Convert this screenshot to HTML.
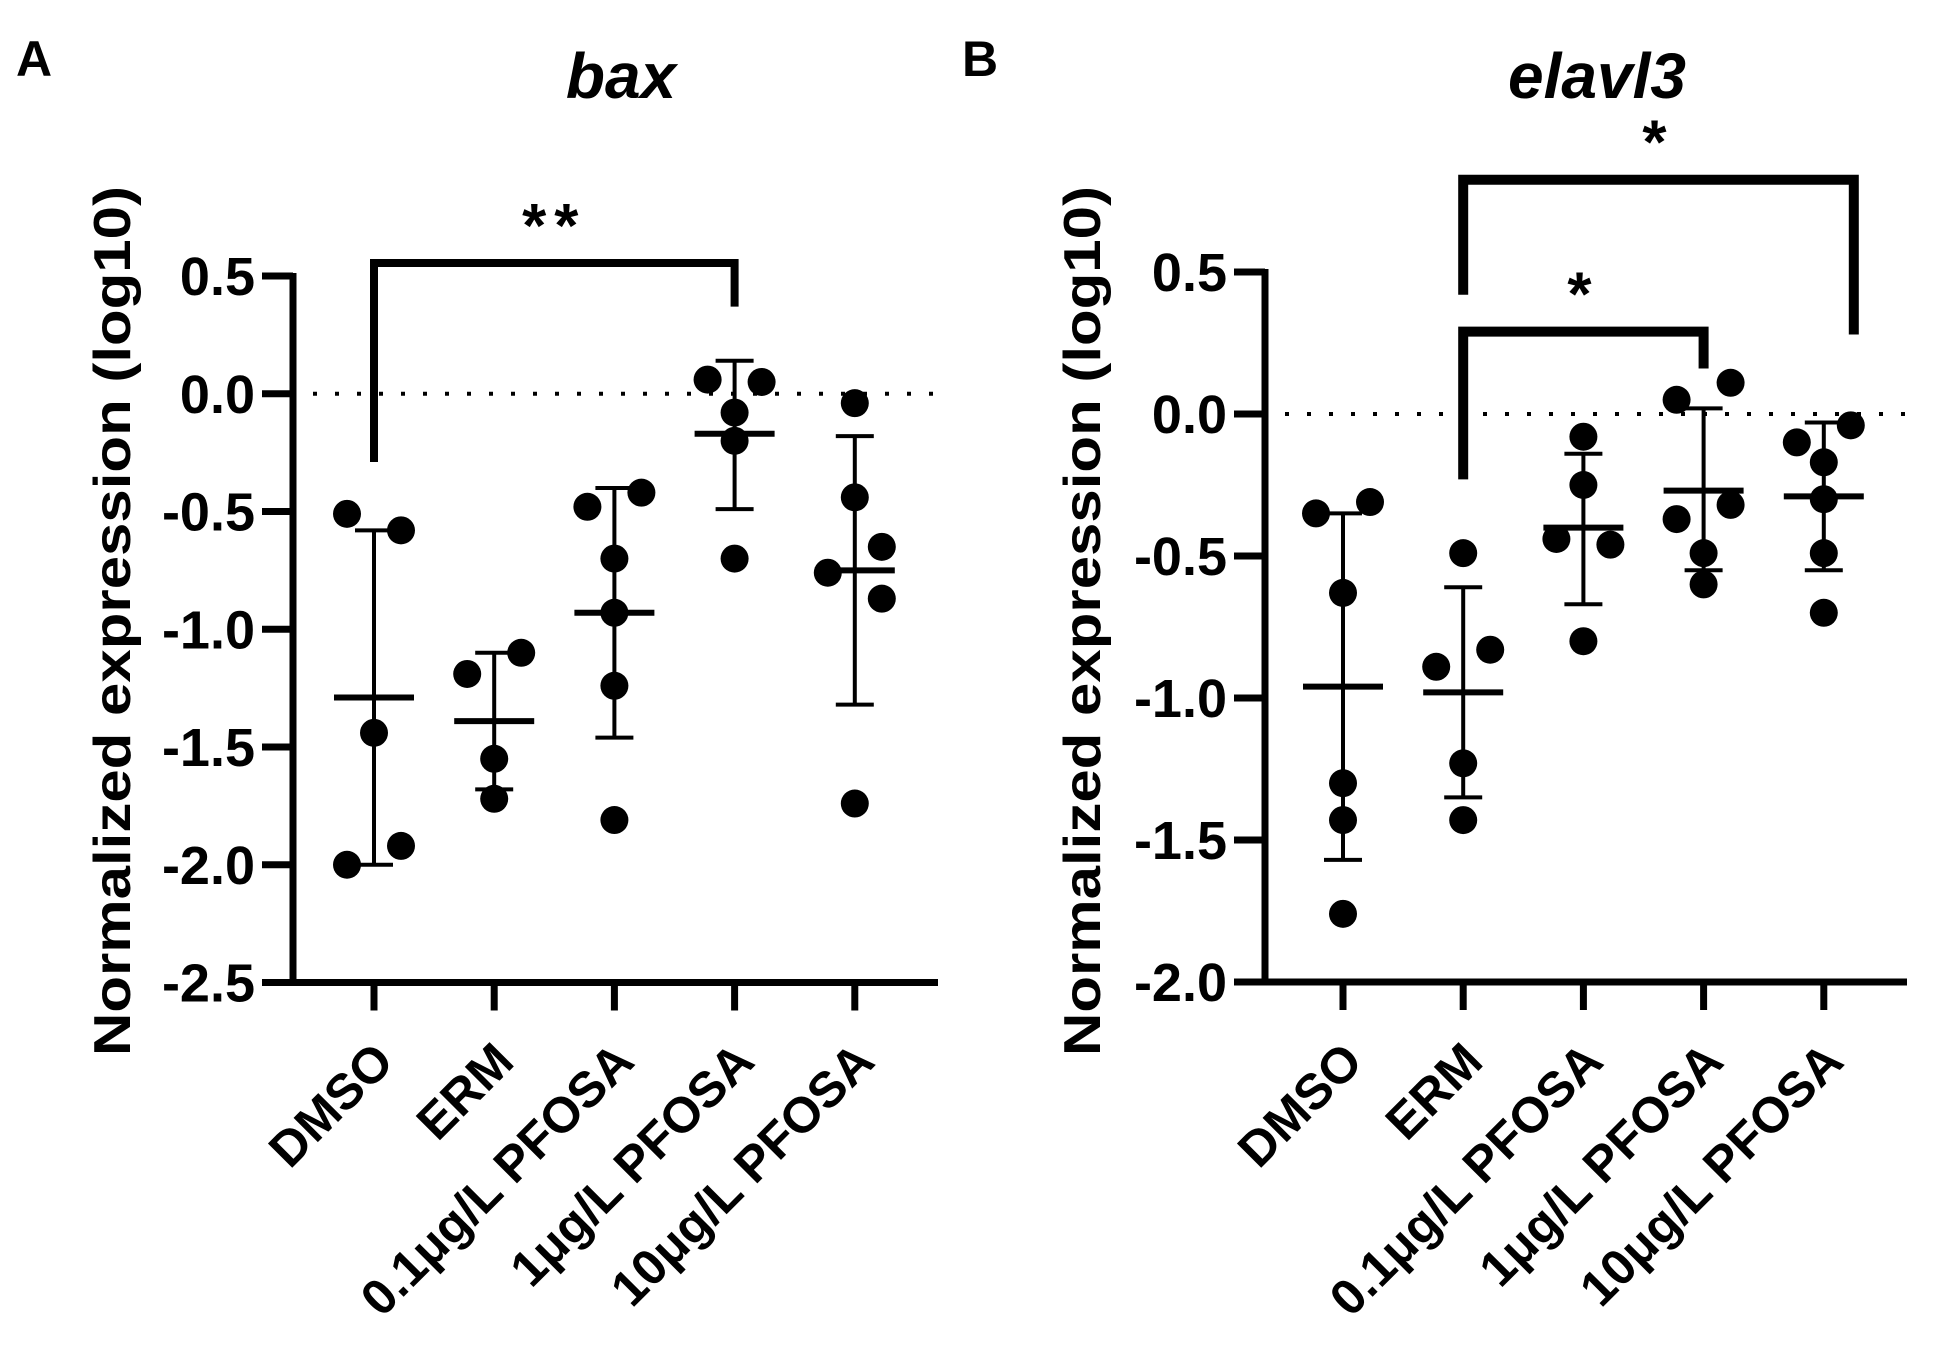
<!DOCTYPE html>
<html><head><meta charset="utf-8">
<style>
html,body{margin:0;padding:0;background:#fff;}
svg{display:block;font-family:"Liberation Sans",Arial,sans-serif;}
</style></head>
<body>
<svg id="fig" width="1938" height="1371" viewBox="0 0 1938 1371" xmlns="http://www.w3.org/2000/svg">
<text x="16" y="76" font-size="50" font-weight="bold">A</text>
<text x="962" y="76" font-size="50" font-weight="bold">B</text>
<text x="621" y="98" font-size="64" font-weight="bold" font-style="italic" text-anchor="middle">bax</text>
<text x="1597" y="98" font-size="64" font-weight="bold" font-style="italic" text-anchor="middle">elavl3</text>
<text x="0" y="0" font-size="52" font-weight="bold" text-anchor="middle" textLength="870" lengthAdjust="spacingAndGlyphs" transform="translate(130,621) rotate(-90)">Normalized expression (log10)</text>
<text x="0" y="0" font-size="52" font-weight="bold" text-anchor="middle" textLength="870" lengthAdjust="spacingAndGlyphs" transform="translate(1100,621) rotate(-90)">Normalized expression (log10)</text>
<g id="panelA"></g>
<g id="panelB"></g>
</svg>
<script>
const categories = ["DMSO","ERM","0.1μg/L PFOSA","1μg/L PFOSA","10μg/L PFOSA"];
// Panel A (bax)
const aTicks = [0.5,0.0,-0.5,-1.0,-1.5,-2.0,-2.5];
const aTickLabels = ["0.5","0.0","-0.5","-1.0","-1.5","-2.0","-2.5"];
const aPoints = [
  [-0.51,-0.58,-1.44,-1.92,-2.00],
  [-1.19,-1.10,-1.55,-1.72],
  [-0.48,-0.42,-0.70,-0.93,-1.24,-1.81],
  [0.06,0.05,-0.08,-0.20,-0.70],
  [-0.04,-0.44,-0.76,-0.65,-0.87,-1.74]
];
const aJitter = [[-1,1,0,1,-1],[-1,1,0,0],[-1,1,0,0,0,0],[-1,1,0,0,0],[0,0,-1,1,1,0]];
const aMean = [-1.29,-1.39,-0.93,-0.17,-0.75];
const aUpper = [-0.58,-1.10,-0.40,0.14,-0.18];
const aLower = [-2.00,-1.68,-1.46,-0.49,-1.32];
const aBrackets = [{from:0,to:3,y:0.555,leftEnd:-0.29,rightEnd:0.37,label:"**"}];
// Panel B (elavl3)
const bTicks = [0.5,0.0,-0.5,-1.0,-1.5,-2.0];
const bTickLabels = ["0.5","0.0","-0.5","-1.0","-1.5","-2.0"];
const bPoints = [
  [-0.35,-0.31,-0.63,-1.30,-1.43,-1.76],
  [-0.49,-0.89,-0.83,-1.23,-1.43],
  [-0.08,-0.25,-0.44,-0.46,-0.80],
  [0.05,0.11,-0.37,-0.32,-0.49,-0.60],
  [-0.10,-0.04,-0.17,-0.30,-0.49,-0.70]
];
const bJitter = [[-1,1,0,0,0,0],[0,-1,1,0,0],[0,0,-1,1,0],[-1,1,-1,1,0,0],[-1,1,0,0,0,0]];
const bMean = [-0.96,-0.98,-0.40,-0.27,-0.29];
const bUpper = [-0.35,-0.61,-0.14,0.02,-0.03];
const bLower = [-1.57,-1.35,-0.67,-0.55,-0.55];
const bBrackets = [
  {from:1,to:4,y:0.825,leftEnd:0.42,rightEnd:0.28,label:"*",rightShift:30},
  {from:1,to:3,y:0.29,leftEnd:-0.23,rightEnd:0.16,label:"*",rightShift:0}
];

const NS="http://www.w3.org/2000/svg";
function mk(parent,tag,attrs){const e=document.createElementNS(NS,tag);for(const k in attrs)e.setAttribute(k,attrs[k]);parent.appendChild(e);return e;}

function drawPanel(g,cfg){
  const yScale=v=>cfg.y0+(cfg.top-v)*cfg.unit;
  const xScale=i=>cfg.x0+i*cfg.step;
  const ax=cfg.axisX, yBot=yScale(cfg.bottom);
  const ya=mk(g,"line",{x1:ax,y1:yScale(cfg.top)-3,x2:ax,y2:yBot+3,stroke:"#000","stroke-width":7});
  
  
  const xa=mk(g,"line",{x1:ax-3,y1:yBot,x2:cfg.axisEnd,y2:yBot,stroke:"#000","stroke-width":7});
  
  
  cfg.ticks.forEach((t,i)=>{
    const y=yScale(t);
    const tl=mk(g,"line",{x1:ax-31,y1:y,x2:ax,y2:y,stroke:"#000","stroke-width":7});
    
    
    const tx=mk(g,"text",{x:ax-38,y:y+19,"font-size":54,"font-weight":"bold","text-anchor":"end"});
    tx.textContent=cfg.tickLabels[i];
    
    
  });
  const zl=mk(g,"line",{x1:ax+20,y1:yScale(0),x2:cfg.axisEnd,y2:yScale(0),stroke:"#000","stroke-width":4,"stroke-dasharray":"4 18"});
  
  
  categories.forEach((c,i)=>{
    const x=xScale(i);
    const xt=mk(g,"line",{x1:x,y1:yBot,x2:x,y2:yBot+28,stroke:"#000","stroke-width":7});
    
    
    const lb=mk(g,"text",{x:0,y:0,"font-size":50,"font-weight":"bold","text-anchor":"end",transform:`translate(${x+22},${cfg.labelY}) rotate(-45)`});
    lb.textContent=c;
    
    
    cfg.points[i].forEach((v,j)=>{
      const p=mk(g,"circle",{cx:x+cfg.jitter[i][j]*27,cy:yScale(v),r:14,fill:"#000"});
      
      
    });
    const eb=mk(g,"line",{x1:x,y1:yScale(cfg.upper[i]),x2:x,y2:yScale(cfg.lower[i]),stroke:"#000","stroke-width":4});
    
    
    [cfg.upper[i],cfg.lower[i]].forEach(v=>{
      const cp=mk(g,"line",{x1:x-19,y1:yScale(v),x2:x+19,y2:yScale(v),stroke:"#000","stroke-width":4});
      
      
    });
    const mn=mk(g,"line",{x1:x-40,y1:yScale(cfg.mean[i]),x2:x+40,y2:yScale(cfg.mean[i]),stroke:"#000","stroke-width":6});
    
    
  });
  cfg.brackets.forEach(b=>{
    const x1=xScale(b.from), x2=xScale(b.to)+(b.rightShift||0), y=yScale(b.y);
    const br=mk(g,"path",{d:`M${x1},${yScale(b.leftEnd)} L${x1},${y} L${x2},${y} L${x2},${yScale(b.rightEnd)}`,fill:"none",stroke:"#000","stroke-width":cfg.bw,"stroke-linejoin":"miter"});
    
    
    const st=mk(g,"text",{x:(x1+x2)/2,y:y-cfg.starGap,"font-size":62,"font-weight":"bold","text-anchor":"middle","letter-spacing":"8"});
    st.textContent=b.label;
    
    
  });
}

drawPanel(document.getElementById("panelA"),{
  axisX:293,axisEnd:938,x0:374,step:120.2,y0:276,top:0.5,bottom:-2.5,unit:235.5,labelY:1064,
  ticks:aTicks,tickLabels:aTickLabels,points:aPoints,jitter:aJitter,mean:aMean,upper:aUpper,lower:aLower,
  brackets:aBrackets,bw:8,starGap:16
});
drawPanel(document.getElementById("panelB"),{
  axisX:1265,axisEnd:1907,x0:1343,step:120.2,y0:272,top:0.5,bottom:-2.0,unit:284,labelY:1064,
  ticks:bTicks,tickLabels:bTickLabels,points:bPoints,jitter:bJitter,mean:bMean,upper:bUpper,lower:bLower,
  brackets:bBrackets,bw:10,starGap:16
});
</script>
</body></html>
